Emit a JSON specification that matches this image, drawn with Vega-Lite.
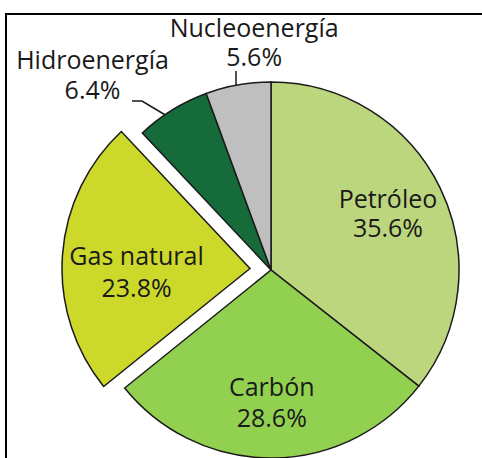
{
  "$schema": "https://vega.github.io/schema/vega-lite/v6.json",
  "width": 530,
  "height": 512,
  "autosize": {"type": "none"},
  "padding": {"left": 6, "top": 14, "right": 0, "bottom": 0},
  "background": "white",
  "config": {
    "view": {"stroke": "#000000", "strokeWidth": 2},
    "text": {"font": "Open Sans", "fontSize": 25, "color": "#1a1a1a"}
  },
  "datasets": {
    "energia": [
      {"fuente": "Petróleo", "valor": 35.6, "orden": 1, "etiqueta": "Petróleo\n35.6%"},
      {"fuente": "Carbón", "valor": 28.6, "orden": 2, "etiqueta": "Carbón\n28.6%"},
      {"fuente": "Gas natural", "valor": 23.8, "orden": 3, "etiqueta": "Gas natural\n23.8%"},
      {"fuente": "Hidroenergía", "valor": 6.4, "orden": 4, "etiqueta": "Hidroenergía\n6.4%"},
      {"fuente": "Nucleoenergía", "valor": 5.6, "orden": 5, "etiqueta": "Nucleoenergía\n5.6%"}
    ],
    "guias": [
      {"guia": "hidro", "paso": 1, "px": -139, "py": 169},
      {"guia": "hidro", "paso": 2, "px": -129, "py": 169},
      {"guia": "hidro", "paso": 3, "px": -106.5, "py": 155.5},
      {"guia": "nucleo", "paso": 1, "px": -35, "py": 199},
      {"guia": "nucleo", "paso": 2, "px": -35, "py": 185}
    ]
  },
  "data": {"name": "energia"},
  "layer": [
    {
      "mark": {"type": "arc", "outerRadius": 188, "stroke": "#1a1a1a", "strokeWidth": 1.5},
      "encoding": {
        "theta": {"field": "valor", "type": "quantitative", "stack": true},
        "order": {"field": "orden", "type": "quantitative"},
        "fill": {
          "field": "fuente", "type": "nominal", "legend": null,
          "scale": {
            "domain": ["Petróleo", "Carbón", "Gas natural", "Hidroenergía", "Nucleoenergía"],
            "range": ["#bcd67d", "#92d050", "#ccd92b", "#156b3a", "#bfbfbf"]
          }
        },
        "opacity": {"condition": {"test": "datum.fuente === 'Gas natural'", "value": 0}, "value": 1}
      }
    },
    {
      "mark": {"type": "arc", "outerRadius": 188, "stroke": "#1a1a1a", "strokeWidth": 1.5, "xOffset": -21, "yOffset": -1.5},
      "encoding": {
        "theta": {"field": "valor", "type": "quantitative", "stack": true},
        "order": {"field": "orden", "type": "quantitative"},
        "fill": {"field": "fuente", "type": "nominal", "legend": null},
        "opacity": {"condition": {"test": "datum.fuente === 'Gas natural'", "value": 1}, "value": 0}
      }
    },
    {
      "mark": {"type": "text", "radius": 136.3, "thetaOffset": -0.087, "lineBreak": "\n", "lineHeight": 29, "baseline": "middle"},
      "encoding": {
        "theta": {"field": "valor", "type": "quantitative", "stack": true},
        "order": {"field": "orden", "type": "quantitative"},
        "text": {"condition": {"test": "datum.fuente === 'Petróleo'", "field": "etiqueta"}, "value": ""}
      }
    },
    {
      "mark": {"type": "text", "radius": 118.5, "lineBreak": "\n", "lineHeight": 31, "baseline": "middle"},
      "encoding": {
        "theta": {"field": "valor", "type": "quantitative", "stack": true},
        "order": {"field": "orden", "type": "quantitative"},
        "text": {"condition": {"test": "datum.fuente === 'Carbón'", "field": "etiqueta"}, "value": ""}
      }
    },
    {
      "mark": {"type": "text", "radius": 114, "thetaOffset": 0.03, "xOffset": -21, "yOffset": -1.5, "lineBreak": "\n", "lineHeight": 32, "baseline": "middle"},
      "encoding": {
        "theta": {"field": "valor", "type": "quantitative", "stack": true},
        "order": {"field": "orden", "type": "quantitative"},
        "text": {"condition": {"test": "datum.fuente === 'Gas natural'", "field": "etiqueta"}, "value": ""}
      }
    },
    {
      "mark": {"type": "text", "radius": 274.5, "thetaOffset": -0.155, "lineBreak": "\n", "lineHeight": 30, "baseline": "middle"},
      "encoding": {
        "theta": {"field": "valor", "type": "quantitative", "stack": true},
        "order": {"field": "orden", "type": "quantitative"},
        "text": {"condition": {"test": "datum.fuente === 'Hidroenergía'", "field": "etiqueta"}, "value": ""}
      }
    },
    {
      "mark": {"type": "text", "radius": 241.1, "thetaOffset": 0.106, "lineBreak": "\n", "lineHeight": 29, "baseline": "middle"},
      "encoding": {
        "theta": {"field": "valor", "type": "quantitative", "stack": true},
        "order": {"field": "orden", "type": "quantitative"},
        "text": {"condition": {"test": "datum.fuente === 'Nucleoenergía'", "field": "etiqueta"}, "value": ""}
      }
    },
    {
      "data": {"name": "guias"},
      "mark": {"type": "line", "stroke": "#1a1a1a", "strokeWidth": 1.5},
      "encoding": {
        "x": {"field": "px", "type": "quantitative", "axis": null, "scale": {"domain": [-265, 265], "nice": false, "zero": false}},
        "y": {"field": "py", "type": "quantitative", "axis": null, "scale": {"domain": [-256, 256], "nice": false, "zero": false}},
        "detail": {"field": "guia", "type": "nominal"},
        "order": {"field": "paso", "type": "quantitative"}
      }
    }
  ]
}
